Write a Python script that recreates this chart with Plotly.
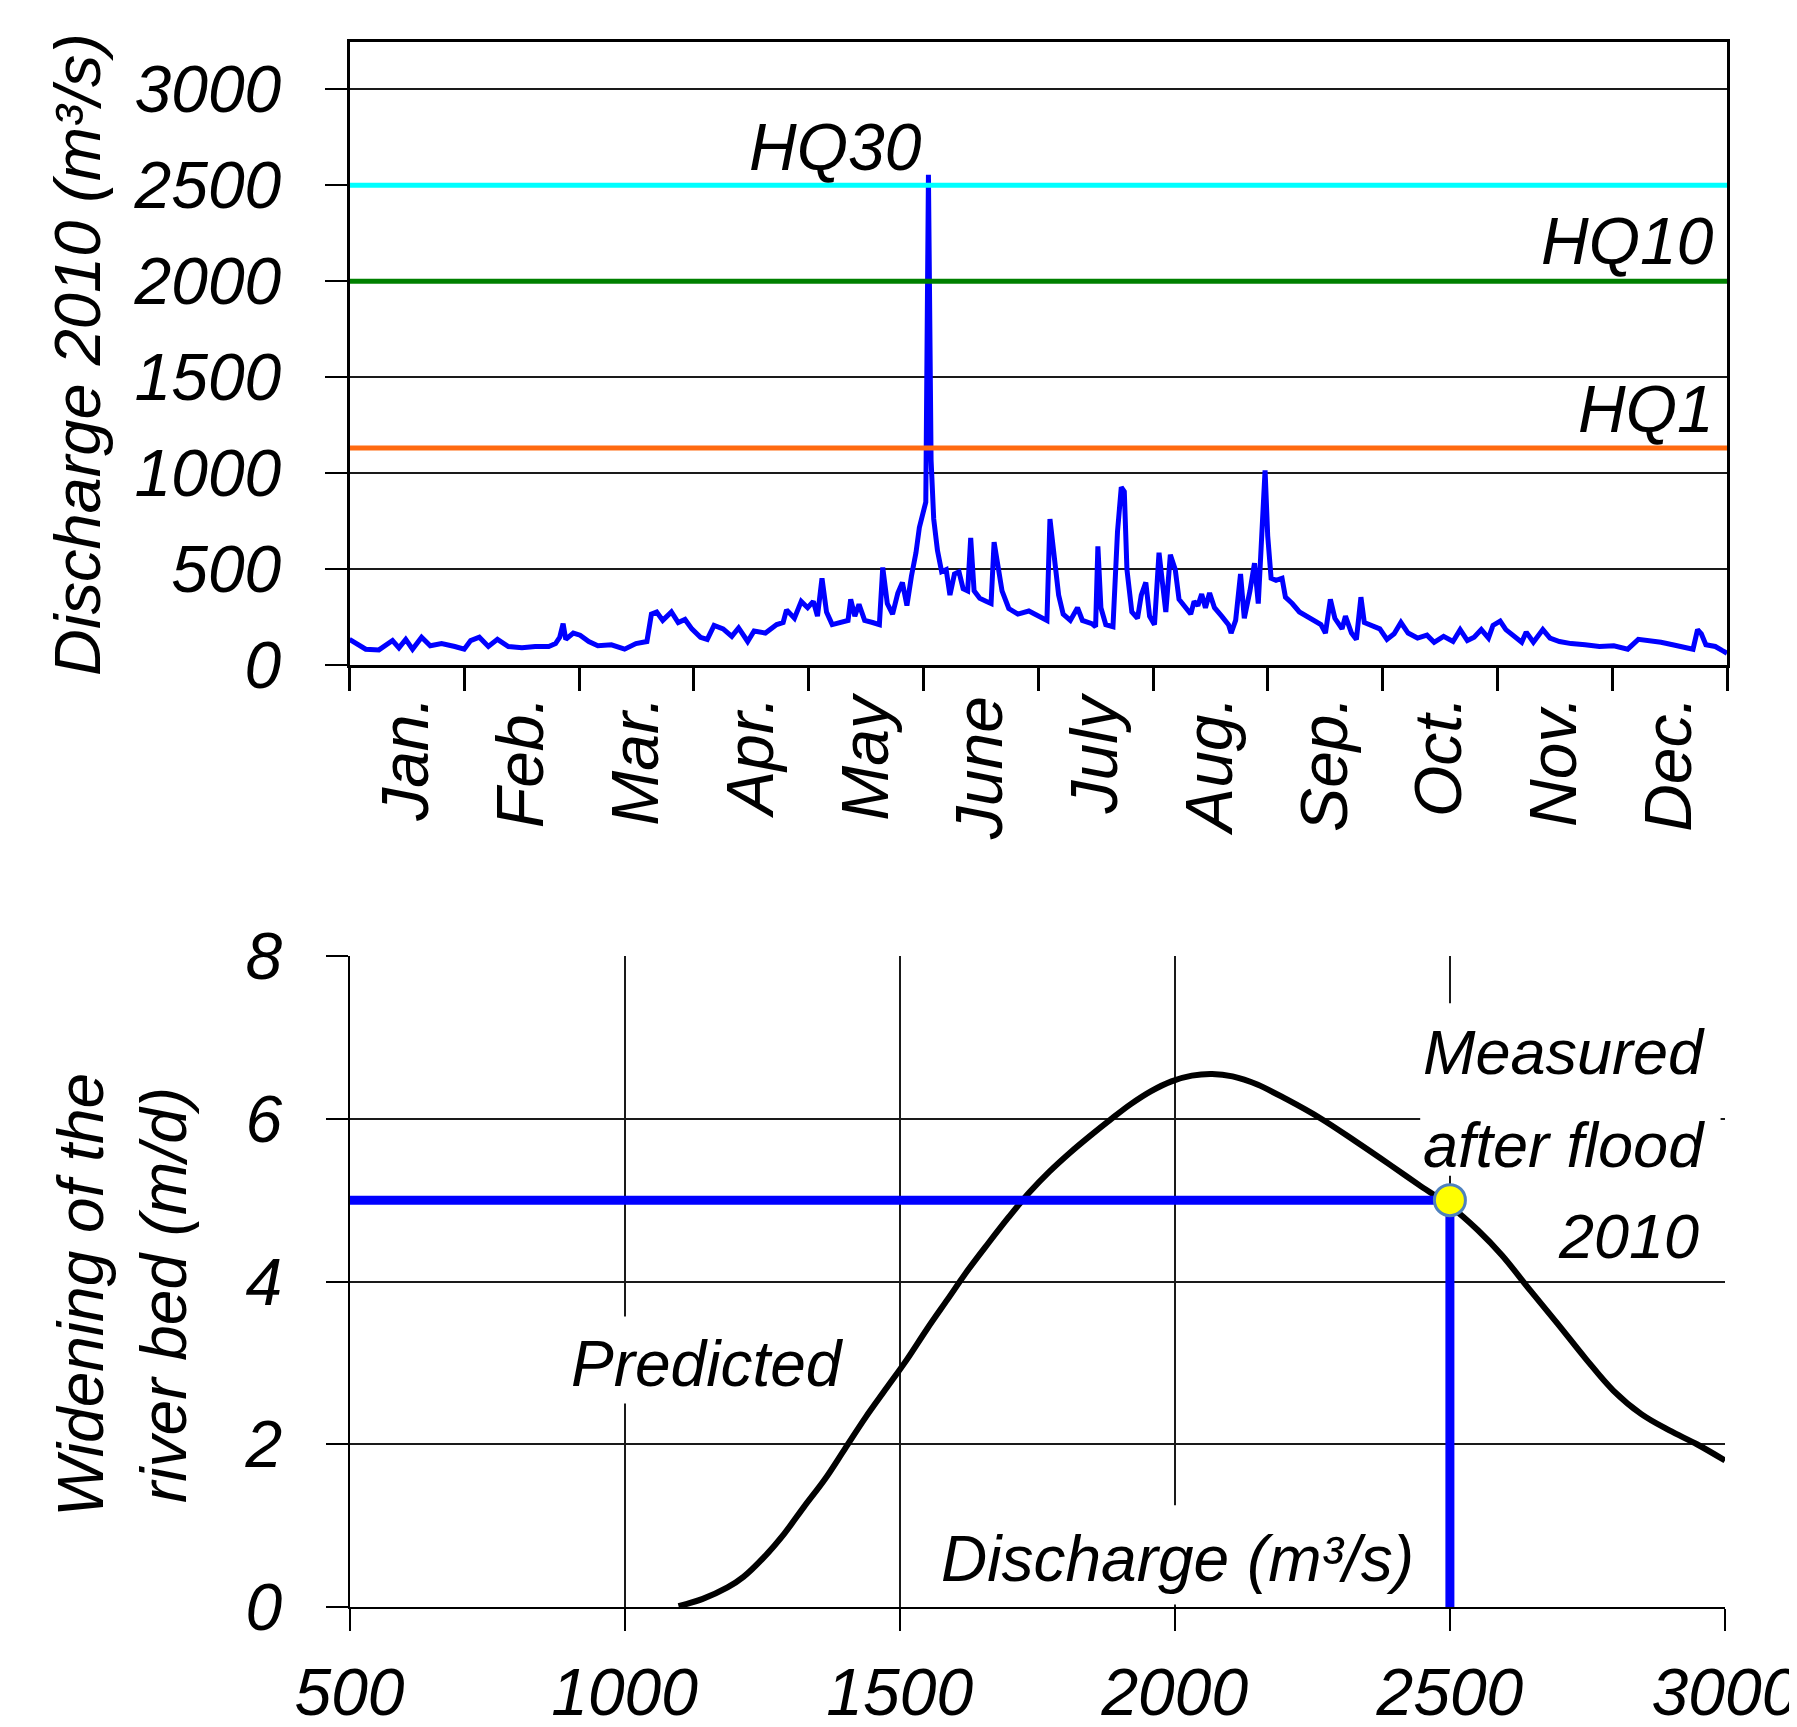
import plotly.graph_objects as go

# ---------------- data: daily discharge 2010 ----------------
DAYS = [0, 1.9, 4.3, 7.8, 11.4, 13.1, 14.9, 16.7, 19.1, 21.4, 24.4, 27.9, 30.4, 32.1, 34.4,
        36.8, 39.2, 42.1, 45.7, 49.2, 52.8, 54.6, 55.7, 56.6, 57.3, 59.3, 61.1, 63.4, 65.8,
        69.4, 72.9, 75.9, 78.8, 80.0, 81.4, 83.0, 85.3, 87.1, 88.9, 90.7, 93.0, 94.8, 96.6,
        99.0, 101.3, 103.1, 105.5, 107.2, 110.2, 113.2, 114.9, 115.8, 117.9, 119.7, 121.4,
        122.9, 124.0, 125.2, 126.4, 127.9, 130.3, 132.1, 132.8, 133.9, 135.0, 136.5, 138.6,
        140.4, 141.3, 142.5, 143.9, 145.3, 146.5, 147.7, 148.9, 150.1, 151.0, 152.0, 152.7,
        153.4, 154.1, 154.8, 155.8, 156.9, 158.1, 159.1, 160.3, 161.5, 162.6, 163.8, 164.6,
        165.5, 167.0, 168.8, 170.0, 170.8, 171.7, 172.9, 174.7, 177.1, 180.0, 182.5, 184.8,
        185.6, 186.6, 187.9, 189.1, 191.0, 192.9, 194.2, 196.7, 197.7, 198.3, 199.1, 200.4,
        202.3, 203.5, 204.5, 205.3, 206.0, 207.3, 208.8, 209.8, 211.0, 212.0, 213.3, 214.5,
        215.4, 216.3, 217.5, 218.8, 219.8, 221.7, 222.9, 223.8, 224.8, 225.8, 226.8, 227.9,
        229.2, 231.1, 232.9, 233.6, 234.8, 236.1, 237.1, 238.6, 239.8, 240.8, 241.7, 242.6,
        243.3, 244.2, 245.5, 247.1, 248.0, 249.8, 251.7, 253.6, 255.5, 257.4, 258.6, 259.9,
        261.1, 263.0, 263.9, 265.5, 266.8, 268.0, 268.9, 271.1, 273.0, 274.9, 276.8, 278.6,
        280.5, 283.0, 285.5, 287.4, 289.9, 292.4, 294.3, 296.2, 298.0, 299.9, 301.8, 303.0,
        304.9, 306.4, 308.7, 310.6, 311.8, 313.7, 316.2, 318.1, 320.6, 323.7, 327.4, 331.2,
        335.0, 338.7, 341.5, 344.4, 347.5, 350.6, 353.7, 356.0, 357.2, 358.2, 359.4, 361.9,
        363.8, 365.0]
Q = [132, 110, 81, 77, 126, 88, 132, 81, 143, 99, 110, 95, 81, 126, 143,
     95, 132, 95, 88, 95, 95, 110, 143, 214, 132, 165, 154, 121, 99,
     104, 81, 110, 121, 264, 275, 231, 275, 220, 236, 187, 143, 132, 205,
     187, 148, 192, 121, 176, 165, 209, 220, 286, 242, 330, 297,
     330, 253, 451, 275, 209, 220, 231, 341, 253, 315, 231, 220,
     209, 507, 319, 264, 374, 429, 308, 462, 584, 716, 804, 848,
     2555, 1068, 760, 595, 485, 496, 363, 473, 484, 396, 385, 661,
     385, 346, 330, 319, 639, 529, 385, 293, 264, 280, 253, 231,
     760, 562, 363, 264, 231, 297, 231, 214, 198, 617, 297, 209,
     198, 694, 925, 903, 496, 275, 242, 363, 429, 253, 209, 584,
     451, 275, 573, 496, 341, 297, 264, 330, 308, 368, 297, 374,
     297, 253, 209, 165, 231, 473, 242, 385, 529, 319, 672, 1013,
     672, 451, 440, 451, 352, 319, 275, 253, 236, 209, 165, 341,
     242, 187, 253, 165, 132, 352, 220, 205, 187, 132, 161, 220,
     165, 139, 154, 117, 148, 121, 183, 126, 143, 183, 139, 205,
     227, 183, 143, 117, 170, 117, 183, 139, 121, 110, 104, 95,
     99, 81, 132, 126, 117, 104, 88, 81, 183, 161, 104, 95,
     73, 60]

MONTHS = ["Jan.", "Feb.", "Mar.", "Apr.", "May", "June", "July", "Aug.", "Sep.",
          "Oct.", "Nov.", "Dec."]
Q_TICKS = [0, 500, 1000, 1500, 2000, 2500, 3000]

HQ_NAMES = ["HQ30", "HQ10", "HQ1"]
HQ_VALUES = [2500, 2000, 1130]

# ---------------- data: predicted widening vs discharge ----------------
PRED_Q = [1098, 1142, 1187, 1216, 1253, 1290, 1327, 1364, 1401, 1438, 1476, 1513, 1550,
          1587, 1624, 1661, 1698, 1735, 1772, 1809, 1846, 1883, 1920, 1957, 1994, 2031,
          2068, 2105, 2150, 2203, 2266, 2329, 2392, 2443, 2500, 2551, 2595, 2646, 2696,
          2747, 2797, 2848, 2899, 2949, 3000]
PRED_W = [0.01, 0.10, 0.24, 0.37, 0.61, 0.90, 1.24, 1.57, 1.95, 2.33, 2.69, 3.04, 3.42,
          3.78, 4.14, 4.47, 4.79, 5.09, 5.35, 5.58, 5.79, 5.99, 6.18, 6.34, 6.46, 6.53,
          6.55, 6.52, 6.42, 6.24, 6.00, 5.72, 5.43, 5.19, 4.93, 4.63, 4.32, 3.89, 3.48,
          3.05, 2.66, 2.37, 2.17, 2.00, 1.80]
MEASURED_Q = 2500
MEASURED_W = 5
DQ_TICKS = [500, 1000, 1500, 2000, 2500, 3000]
W_TICKS = [0, 2, 4, 6, 8]
MEASURED_LINES = ["Measured", "after flood", "2010"]

# ---------------- styling ----------------
W, H = 1797, 1727
FONT_FAMILY = "Liberation Sans, Arial, sans-serif"
TXT = dict(family=FONT_FAMILY, size=66, color="black", style="italic")
HQ_COLORS = ["#00FFFF", "#008000", "#FF6A10"]
GRID = "#1a1a1a"

# plot areas in pixels (left, right, top, bottom)
TOP = (341.5, 1719, 34.4, 656.7)
BOT = (341.5, 1717, 948, 1599)


def xdom(b):
    return [b[0] / W, b[1] / W]


def ydom(b):
    return [1 - b[3] / H, 1 - b[2] / H]


fig = go.Figure()

# top panel
fig.add_trace(go.Scatter(x=DAYS, y=Q, mode="lines", line=dict(color="#0000FF", width=5),
                         xaxis="x", yaxis="y", showlegend=False, name="Discharge 2010"))
for name, val, col in zip(HQ_NAMES, HQ_VALUES, HQ_COLORS):
    fig.add_trace(go.Scatter(x=[0, 365], y=[val, val], mode="lines",
                             line=dict(color=col, width=5), xaxis="x", yaxis="y",
                             showlegend=False, name=name))

# bottom panel
fig.add_trace(go.Scatter(x=PRED_Q, y=PRED_W, mode="lines",
                         line=dict(color="black", width=6, shape="spline", smoothing=1.0),
                         xaxis="x2", yaxis="y2", showlegend=False, name="Predicted"))
fig.add_trace(go.Scatter(x=[DQ_TICKS[0], MEASURED_Q, MEASURED_Q], y=[MEASURED_W, MEASURED_W, 0],
                         mode="lines", line=dict(color="#0000FF", width=9),
                         xaxis="x2", yaxis="y2", showlegend=False, name="Measured"))
fig.add_trace(go.Scatter(x=[MEASURED_Q], y=[MEASURED_W], mode="markers",
                         marker=dict(color="#FFFF00", size=31, line=dict(color="#4F81BD", width=3)),
                         xaxis="x2", yaxis="y2", showlegend=False, name="Measured 2010"))

month_len = 365 / 12
month_centers = [(i + 0.5) * month_len for i in range(12)]
month_bounds = [i * month_len for i in range(13)]

common_axis = dict(automargin=False, zeroline=False, ticklabeloverflow="allow")

fig.update_layout(
    template="none",
    width=W, height=H, margin=dict(l=0, r=0, t=0, b=0, autoexpand=False),
    paper_bgcolor="white", plot_bgcolor="white",
    xaxis=dict(domain=xdom(TOP), range=[0, 365], anchor="y",
               tickmode="array", tickvals=month_centers, ticktext=MONTHS,
               ticks="", tickangle=-90, tickfont=TXT, ticklabelstandoff=2,
               showgrid=False, showline=True, linecolor="black",
               linewidth=3, mirror=True,
               minor=dict(tickmode="array", tickvals=month_bounds, ticks="outside",
                          ticklen=23, tickwidth=2.5, tickcolor="black", showgrid=False),
               **common_axis),
    yaxis=dict(domain=ydom(TOP), range=[0, 3245], anchor="x",
               tickmode="array", tickvals=Q_TICKS, ticktext=[str(v) for v in Q_TICKS],
               ticks="outside", ticklen=22, tickwidth=2, tickcolor="black",
               tickfont=TXT, ticklabelstandoff=30,
               showgrid=True, gridcolor=GRID, gridwidth=1.5,
               showline=True, linecolor="black", linewidth=3, mirror=True,
               **common_axis),
    xaxis2=dict(domain=xdom(BOT), range=[500, 3000], anchor="y2",
                tickmode="array", tickvals=DQ_TICKS, ticktext=[str(v) for v in DQ_TICKS],
                ticks="outside", ticklen=22, tickwidth=2, tickcolor="black",
                tickfont=TXT, ticklabelstandoff=5,
                showgrid=True, gridcolor=GRID, gridwidth=1.5,
                showline=True, linecolor="black", linewidth=2,
                **common_axis),
    yaxis2=dict(domain=ydom(BOT), range=[0, 8], anchor="x2",
                tickmode="array", tickvals=W_TICKS, ticktext=[str(v) for v in W_TICKS],
                ticks="outside", ticklen=22, tickwidth=2, tickcolor="black",
                tickfont=TXT, ticklabelstandoff=30,
                showgrid=True, gridcolor=GRID, gridwidth=1.5,
                showline=True, linecolor="black", linewidth=2,
                **common_axis),
)

# white boxes behind the labels (hide gridlines, stay under the traces)
box = dict(type="rect", xref="x2", yref="y2", fillcolor="white", line=dict(width=0), layer="between")
fig.add_shape(box, x0=905, x1=1400, y0=2.5, y1=3.57)
fig.add_shape(box, x0=1535, x1=2470, y0=0.03, y1=1.25)
fig.add_shape(box, x0=2446, x1=2992, y0=5.3, y1=7.42)

ann = []
# axis titles
ann.append(dict(text="Discharge 2010 (m³/s)", xref="paper", yref="paper", x=69 / W, y=1 - 347 / H,
                textangle=-90, showarrow=False, font=dict(TXT, size=65),
                xanchor="center", yanchor="middle"))
ann.append(dict(text="Widening of the<br>river bed (m/d)", xref="paper", yref="paper",
                x=114 / W, y=1 - 1287 / H, textangle=-90, showarrow=False,
                font=dict(TXT, size=64), xanchor="center", yanchor="middle"))
# HQ labels
ann.append(dict(text=HQ_NAMES[0], xref="x", yref="y", x=128.9, y=2699, showarrow=False,
                font=TXT, xanchor="center", yanchor="middle"))
ann.append(dict(text=HQ_NAMES[1], xref="x", yref="y", x=362, y=2211, showarrow=False,
                font=TXT, xanchor="right", yanchor="middle"))
ann.append(dict(text=HQ_NAMES[2], xref="x", yref="y", x=362, y=1333, showarrow=False,
                font=TXT, xanchor="right", yanchor="middle"))
# bottom panel texts
ann.append(dict(text="Predicted", xref="x2", yref="y2", x=1151, y=2.99, showarrow=False,
                font=dict(TXT, size=64), xanchor="center", yanchor="middle"))
ann.append(dict(text="Discharge (m³/s)", xref="x2", yref="y2", x=2004, y=0.59, showarrow=False,
                font=dict(TXT, size=64), xanchor="center", yanchor="middle"))
for line, yv, xv in zip(MEASURED_LINES, [6.82, 5.68, 4.56], [2968, 2968, 2956]):
    ann.append(dict(text=line, xref="x2", yref="y2", x=xv, y=yv, showarrow=False,
                    font=dict(TXT, size=63), xanchor="right", yanchor="middle"))
fig.update_layout(annotations=ann)

fig.write_html("out.html")
